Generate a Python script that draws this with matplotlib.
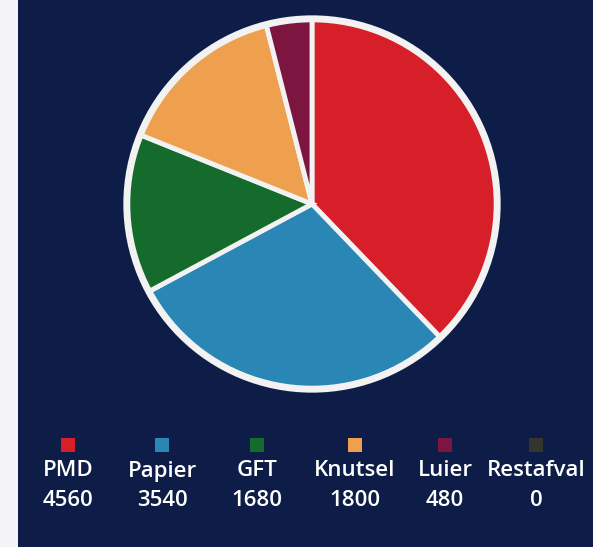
import matplotlib
matplotlib.use("Agg")
import matplotlib.pyplot as plt
from matplotlib.patches import Rectangle, Circle

categories = ["PMD", "Papier", "GFT", "Knutsel", "Luier", "Restafval"]
values = [4560, 3540, 1680, 1800, 480, 0]
colors = ["#d71f2a", "#2a86b5", "#156b2c", "#eea04f", "#7c1540", "#34352f"]

W, H = 593, 547
fig = plt.figure(figsize=(W / 100, H / 100), dpi=100)
fig.patch.set_facecolor("#f4f4f6")

# navy background panel
bg = fig.add_axes([0, 0, 1, 1])
bg.set_xlim(0, W)
bg.set_ylim(H, 0)
bg.axis("off")
bg.add_patch(Rectangle((18, 0), W - 18, H, facecolor="#0e1d47", edgecolor="none"))

# pie
cx, cy, r = 312, 204, 188
ax = fig.add_axes([(cx - r) / W, 1 - (cy + r) / H, 2 * r / W, 2 * r / H])
ax.set_facecolor("none")
vals = [v for v in values if v > 0]
cols = [c for v, c in zip(values, colors) if v > 0]
wedges, _ = ax.pie(vals, colors=cols, startangle=90, counterclock=False, radius=0.985,
                   wedgeprops=dict(edgecolor="#f2f2f2", linewidth=3.5))
ring = Circle((0, 0), 0.985, facecolor="none", edgecolor="#f2f2f2", linewidth=5)
ring.set_clip_on(False)
ax.add_patch(ring)
ax.set_xlim(-1.0, 1.0)
ax.set_ylim(-1.0, 1.0)
ax.set_aspect("equal")
ax.axis("off")

# legend
xs = [68, 162, 257, 355, 445, 536]
for x, cat, val, col in zip(xs, categories, values, colors):
    bg.add_patch(Rectangle((x - 7, 438), 14, 14, facecolor=col, edgecolor="none"))
    bg.text(x, 471, cat, color="white", fontsize=16, family="Open Sans",
            fontweight="semibold", ha="center", va="center")
    bg.text(x, 501, str(val), color="white", fontsize=16, family="Open Sans",
            fontweight="semibold", ha="center", va="center")

fig.savefig("out.png", dpi=100, facecolor=fig.get_facecolor())
